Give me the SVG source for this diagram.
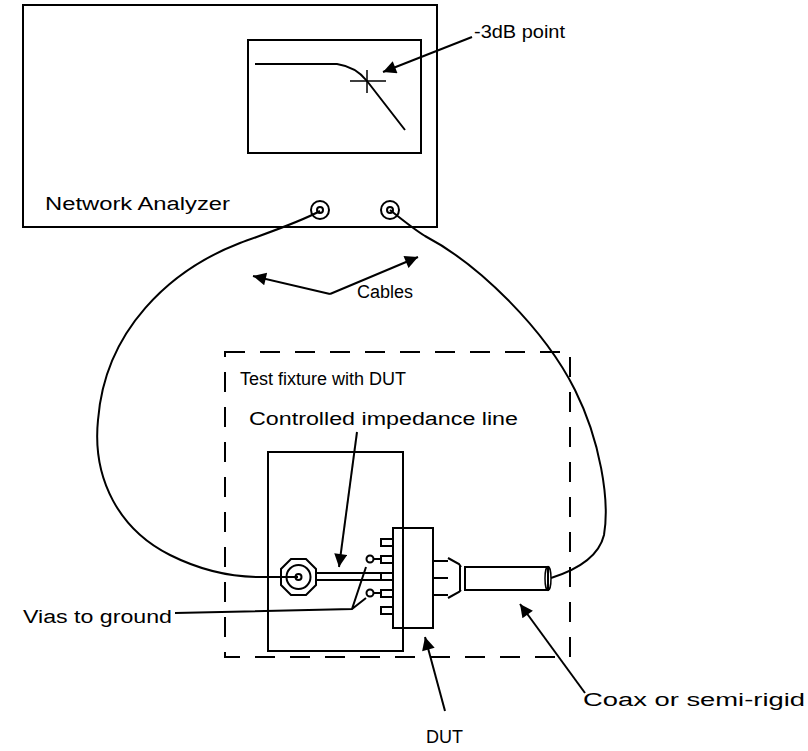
<svg xmlns="http://www.w3.org/2000/svg" width="808" height="751" viewBox="0 0 808 751">
  <style>
    .ln { fill: none; stroke: #000; stroke-width: 2; }
    .thin { fill: none; stroke: #000; stroke-width: 1.5; }
    .lbl { font-family: "Liberation Sans", Arial, sans-serif; font-size: 18px; fill: #000; }
    .dash { fill: none; stroke: #000; stroke-width: 2; stroke-dasharray: 20 15; }
  </style>
  <defs>
    <marker id="head" viewBox="0 0 10 10" refX="10" refY="5" markerUnits="userSpaceOnUse" markerWidth="16" markerHeight="13" orient="auto">
      <path d="M0,0 L10,5 L0,10 z" fill="#000"/>
    </marker>
  </defs>

  <rect width="808" height="751" fill="#fff"/>

  <!-- Network analyzer with its display and two ports -->
  <g id="network-analyzer">
    <rect class="ln" x="23" y="5" width="414" height="222"/>
    <rect class="ln" x="248" y="40" width="173" height="113"/>
    <path class="ln" d="M255,64 L337,64 C350,66 360,72 367,81 L405,130"/>
    <path class="thin" d="M350,81 H386 M367,70 V93"/>
    <text class="lbl" x="45" y="210" textLength="185" lengthAdjust="spacingAndGlyphs">Network Analyzer</text>
    <circle class="ln" cx="320" cy="210" r="9"/>
    <circle class="ln" cx="320" cy="210" r="3"/>
    <circle class="ln" cx="390" cy="210" r="9"/>
    <circle class="ln" cx="390" cy="210" r="3"/>
  </g>

  <g id="label-3db">
    <text class="lbl" x="474" y="38" textLength="91" lengthAdjust="spacingAndGlyphs">-3dB point</text>
  </g>

  <g id="label-cables">
    <text class="lbl" x="357" y="298">Cables</text>
  </g>

  <!-- Test fixture: board, SMA launch, line, vias, DUT and coax -->
  <g id="test-fixture">
    <rect class="dash" x="225" y="352" width="345" height="305"/>
    <text class="lbl" x="240" y="385">Test fixture with DUT</text>
    <text class="lbl" x="249" y="425" textLength="269" lengthAdjust="spacingAndGlyphs">Controlled impedance line</text>
    <rect class="ln" x="268" y="452" width="135" height="199"/>
  </g>

  <g id="sma-connector">
    <polygon class="ln" points="291,559 306,559 316,569 316,585 306,595 291,595 281,585 281,569"/>
    <circle class="ln" cx="298.5" cy="577" r="12"/>
    <circle class="ln" cx="298.5" cy="577" r="3"/>
  </g>

  <g id="transmission-line">
    <path class="ln" d="M316,573 H381 M316,580 H381"/>
  </g>

  <g id="vias">
    <circle class="ln" cx="370" cy="559" r="3.5"/>
    <path class="ln" d="M373.5,559 H381"/>
    <circle class="ln" cx="370" cy="593" r="3.5"/>
    <path class="ln" d="M373.5,593 H381"/>
  </g>

  <g id="dut">
    <rect class="ln" x="393" y="528" width="40" height="100"/>
    <path class="ln" d="M393,539 H381 V546 H393 M393,556 H381 V563 H393 M393,573 H381 V580 H393 M393,590 H381 V597 H393 M393,607 H381 V614 H393"/>
  </g>

  <g id="coax">
    <path class="ln" d="M433,561 H448 M433,578 H448 M433,595 H448"/>
    <path class="ln" d="M448,558 L459,564 L461,567 M448,598 L459,592 L461,590 M460,566 V591"/>
    <rect class="ln" x="465" y="567" width="83" height="23"/>
    <ellipse class="thin" cx="548" cy="578.5" rx="3" ry="12"/>
  </g>

  <g id="label-vias">
    <text class="lbl" x="23" y="623" textLength="149" lengthAdjust="spacingAndGlyphs">Vias to ground</text>
  </g>
  <g id="label-coax">
    <text class="lbl" x="583" y="706" textLength="222" lengthAdjust="spacingAndGlyphs">Coax or semi-rigid</text>
  </g>
  <g id="label-dut">
    <text class="lbl" x="426" y="743">DUT</text>
  </g>

  <!-- Cables and leader lines -->
  <g id="connectors">
    <path class="ln" d="M320,211 C300,222 270,232 240,243 C170,270 105,330 98,420 C92,480 120,530 170,555 C200,570 230,577 260,577 L298,577"/>
    <path class="ln" d="M390,210 C405,222 415,230 425,236 C480,265 545,330 575,390 C600,440 610,500 604,535 C598,560 570,572 551,578"/>
    <path class="ln" d="M472,37 L383,72" marker-end="url(#head)"/>
    <path class="ln" d="M330,294 L253,276" marker-end="url(#head)"/>
    <path class="ln" d="M330,294 L418,257" marker-end="url(#head)"/>
    <path class="ln" d="M357,432 L339,567" marker-end="url(#head)"/>
    <path class="ln" d="M175,613 L352,609 L366,567 M352,609 L366,598"/>
    <path class="ln" d="M445,711 L425,637" marker-end="url(#head)"/>
    <path class="ln" d="M585,693 L520,604" marker-end="url(#head)"/>
  </g>
</svg>
